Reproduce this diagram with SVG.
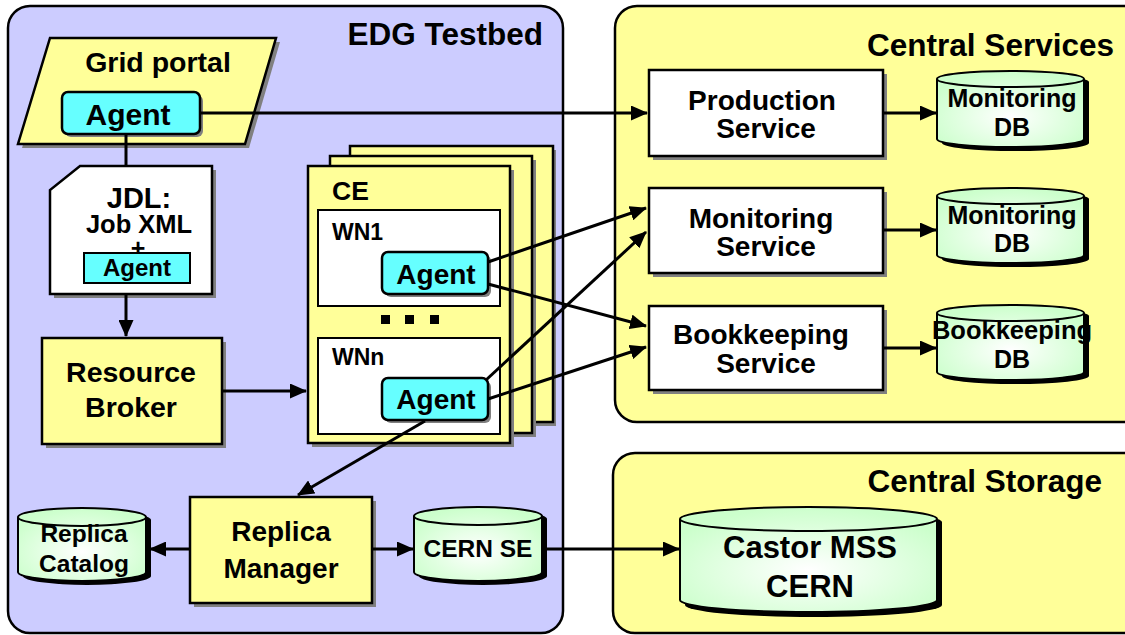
<svg xmlns="http://www.w3.org/2000/svg" width="1125" height="635" viewBox="0 0 1125 635">
<style>
text{font-family:"Liberation Sans",Arial,sans-serif;font-weight:bold;fill:#000}
.c{text-anchor:middle}
.r{text-anchor:end}
.box{stroke:#000;stroke-width:2.5}
.yel{fill:#FFFF99}
.wht{fill:#FFFFFF}
.cy{fill:#66FFFF}
.sh{fill:#808080}
.db{fill:url(#dbg);stroke:#000;stroke-width:2}
.dbs{fill:#000}
.ln{stroke:#000;stroke-width:3;fill:none}
.ar{marker-end:url(#ah)}
</style>
<defs>
<marker id="ah" markerUnits="userSpaceOnUse" markerWidth="17" markerHeight="15" refX="16" refY="7.5" orient="auto">
<path d="M0,0 L17,7.5 L0,15 Z" fill="#000"/>
</marker>
<radialGradient id="dbg" cx="0.5" cy="0.6" r="0.6">
<stop offset="0" stop-color="#FFFFFF"/>
<stop offset="1" stop-color="#CCFFCC"/>
</radialGradient>
</defs>

<g id="edg-testbed">
<rect x="8" y="6" width="555" height="627" rx="22" fill="#CCCCFF" stroke="#000" stroke-width="2.5"/>
<text x="543" y="45" class="r" font-size="31.5">EDG Testbed</text>
</g>
<g id="central-services">
<rect x="615" y="6" width="530" height="416" rx="22" fill="#FFFF99" stroke="#000" stroke-width="2.5"/>
<text x="1114" y="56" class="r" font-size="31.5">Central Services</text>
</g>
<g id="central-storage">
<rect x="613" y="453" width="532" height="180" rx="22" fill="#FFFF99" stroke="#000" stroke-width="2.5"/>
<text x="1102" y="492" class="r" font-size="31.5">Central Storage</text>
</g>

<g id="grid-portal">
<polygon points="53,42 280,42 249,148 22,148" class="sh"/>
<polygon points="50,38 276,38 245,144 18,144" class="yel box"/>
<text x="158" y="72" class="c" font-size="28.5">Grid portal</text>
</g>
<g id="portal-agent">
<rect x="65" y="95" width="138" height="42" rx="6" class="sh"/>
<rect x="62" y="92" width="138" height="42" rx="6" class="cy box"/>
<text x="128" y="125" class="c" font-size="30">Agent</text>
</g>

<g id="jdl">
<polygon points="84,170 216,170 216,298 54,298 54,194" class="sh"/>
<polygon points="80,166 212,166 212,294 50,294 50,190" class="wht box"/>
<text x="139" y="208" class="c" font-size="29">JDL:</text>
<text x="139" y="233" class="c" font-size="25.5">Job XML</text>
<text x="138" y="257" class="c" font-size="25">+</text>
<rect x="84" y="253" width="106" height="30" fill="#66FFFF" stroke="#000" stroke-width="2"/>
<text x="137" y="276" class="c" font-size="24">Agent</text>
</g>

<g id="resource-broker">
<rect x="46" y="342" width="180" height="106" class="sh"/>
<rect x="42" y="338" width="180" height="106" class="yel box"/>
<text x="131" y="382" class="c" font-size="28.5">Resource</text>
<text x="131" y="417" class="c" font-size="28.5">Broker</text>
</g>

<g id="ce">
<rect x="353" y="150" width="203" height="276" class="sh"/>
<rect x="350" y="146" width="203" height="276" class="yel box"/>
<rect x="334" y="160" width="202" height="277" class="sh"/>
<rect x="330" y="156" width="202" height="277" class="yel box"/>
<rect x="312" y="170" width="202" height="277" class="sh"/>
<rect x="308" y="166" width="202" height="277" class="yel box"/>
<text x="332" y="200" font-size="26.5">CE</text>
<rect x="318" y="210" width="182" height="96" class="wht" stroke="#000" stroke-width="2"/>
<text x="332" y="240" font-size="23">WN1</text>
<rect x="318" y="338" width="182" height="96" class="wht" stroke="#000" stroke-width="2"/>
<text x="332" y="365" font-size="23">WNn</text>
<rect x="381" y="315" width="9" height="9" fill="#000"/>
<rect x="405" y="315" width="9" height="9" fill="#000"/>
<rect x="430" y="315" width="9" height="9" fill="#000"/>
</g>
<g id="wn1-agent">
<rect x="385" y="255" width="106" height="42" rx="6" class="sh"/>
<rect x="382" y="252" width="106" height="42" rx="6" class="cy box"/>
<text x="436" y="284" class="c" font-size="28">Agent</text>
</g>
<g id="wnn-agent">
<rect x="385" y="381" width="106" height="42" rx="6" class="sh"/>
<rect x="382" y="378" width="106" height="42" rx="6" class="cy box"/>
<text x="436" y="409" class="c" font-size="28">Agent</text>
</g>

<g id="production-service">
<rect x="653" y="74" width="234" height="86" class="sh"/>
<rect x="649" y="70" width="234" height="86" class="wht box"/>
<text x="762" y="110" class="c" font-size="28">Production</text>
<text x="766" y="138" class="c" font-size="28">Service</text>
</g>
<g id="monitoring-service">
<rect x="653" y="192" width="234" height="85" class="sh"/>
<rect x="649" y="188" width="234" height="85" class="wht box"/>
<text x="761" y="228" class="c" font-size="28">Monitoring</text>
<text x="766" y="256" class="c" font-size="28">Service</text>
</g>
<g id="bookkeeping-service">
<rect x="653" y="310" width="234" height="84" class="sh"/>
<rect x="649" y="306" width="234" height="84" class="wht box"/>
<text x="761" y="344" class="c" font-size="28">Bookkeeping</text>
<text x="766" y="373" class="c" font-size="28">Service</text>
</g>

<g id="monitoring-db-1">
<path d="M942,82 A73.5,8 0 0 1 1089,82 L1089,143 A73.5,8 0 0 1 942,143 Z" class="dbs"/>
<path d="M937,79 A73.5,8 0 0 1 1084,79 L1084,139 A73.5,8 0 0 1 937,139 Z" class="db"/>
<path d="M937,79 A73.5,8 0 0 0 1084,79" fill="none" stroke="#000" stroke-width="2"/>
<text x="1012" y="107" class="c" font-size="25">Monitoring</text>
<text x="1012" y="136" class="c" font-size="25">DB</text>
</g>
<g id="monitoring-db-2">
<path d="M942,199 A73.5,8 0 0 1 1089,199 L1089,259 A73.5,8 0 0 1 942,259 Z" class="dbs"/>
<path d="M937,196 A73.5,8 0 0 1 1084,196 L1084,255 A73.5,8 0 0 1 937,255 Z" class="db"/>
<path d="M937,196 A73.5,8 0 0 0 1084,196" fill="none" stroke="#000" stroke-width="2"/>
<text x="1012" y="224" class="c" font-size="25">Monitoring</text>
<text x="1012" y="252" class="c" font-size="25">DB</text>
</g>
<g id="bookkeeping-db">
<path d="M942,316 A73.5,8 0 0 1 1089,316 L1089,376 A73.5,8 0 0 1 942,376 Z" class="dbs"/>
<path d="M937,313 A73.5,8 0 0 1 1084,313 L1084,372 A73.5,8 0 0 1 937,372 Z" class="db"/>
<path d="M937,313 A73.5,8 0 0 0 1084,313" fill="none" stroke="#000" stroke-width="2"/>
<text x="1012" y="339" class="c" font-size="25.5">Bookkeeping</text>
<text x="1012" y="368" class="c" font-size="25">DB</text>
</g>

<g id="replica-manager">
<rect x="194" y="501" width="182" height="106" class="sh"/>
<rect x="190" y="497" width="182" height="106" class="yel box"/>
<text x="281" y="541" class="c" font-size="28">Replica</text>
<text x="281" y="578" class="c" font-size="28">Manager</text>
</g>
<g id="replica-catalog">
<path d="M23,520 A64,9 0 0 1 151,520 L151,576 A64,9 0 0 1 23,576 Z" class="dbs"/>
<path d="M18,517 A64,9 0 0 1 146,517 L146,572 A64,9 0 0 1 18,572 Z" class="db"/>
<path d="M18,517 A64,9 0 0 0 146,517" fill="none" stroke="#000" stroke-width="2"/>
<text x="84" y="542" class="c" font-size="24.5">Replica</text>
<text x="84" y="572" class="c" font-size="24.5">Catalog</text>
</g>
<g id="cern-se">
<path d="M419,519 A64,9 0 0 1 547,519 L547,576 A64,9 0 0 1 419,576 Z" class="dbs"/>
<path d="M414,516 A64,9 0 0 1 542,516 L542,572 A64,9 0 0 1 414,572 Z" class="db"/>
<path d="M414,516 A64,9 0 0 0 542,516" fill="none" stroke="#000" stroke-width="2"/>
<text x="478" y="557" class="c" font-size="24.5">CERN SE</text>
</g>
<g id="castor-mss">
<path d="M685,522 A128.5,12 0 0 1 942,522 L942,605 A128.5,12 0 0 1 685,605 Z" class="dbs"/>
<path d="M680,519 A128.5,12 0 0 1 937,519 L937,600 A128.5,12 0 0 1 680,600 Z" class="db"/>
<path d="M680,519 A128.5,12 0 0 0 937,519" fill="none" stroke="#000" stroke-width="2"/>
<text x="810" y="558" class="c" font-size="31">Castor MSS</text>
<text x="810" y="597" class="c" font-size="31">CERN</text>
</g>

<g id="connectors">
<line x1="200" y1="113" x2="647" y2="113" class="ln ar"/>
<line x1="126" y1="134" x2="126" y2="166" class="ln"/>
<line x1="126" y1="294" x2="126" y2="336" class="ln ar"/>
<line x1="222" y1="391" x2="306" y2="391" class="ln ar"/>
<line x1="488" y1="262" x2="646" y2="208" class="ln ar"/>
<line x1="488" y1="284" x2="646" y2="326" class="ln ar"/>
<line x1="486" y1="380" x2="646" y2="232" class="ln ar"/>
<line x1="488" y1="399" x2="646" y2="347" class="ln ar"/>
<line x1="425" y1="421" x2="298" y2="495" class="ln ar"/>
<line x1="883" y1="113" x2="936" y2="113" class="ln ar"/>
<line x1="883" y1="230" x2="936" y2="230" class="ln ar"/>
<line x1="883" y1="348" x2="936" y2="348" class="ln ar"/>
<line x1="190" y1="549" x2="150" y2="549" class="ln ar"/>
<line x1="372" y1="549" x2="413" y2="549" class="ln ar"/>
<line x1="542" y1="549" x2="679" y2="549" class="ln ar"/>
</g>
</svg>
